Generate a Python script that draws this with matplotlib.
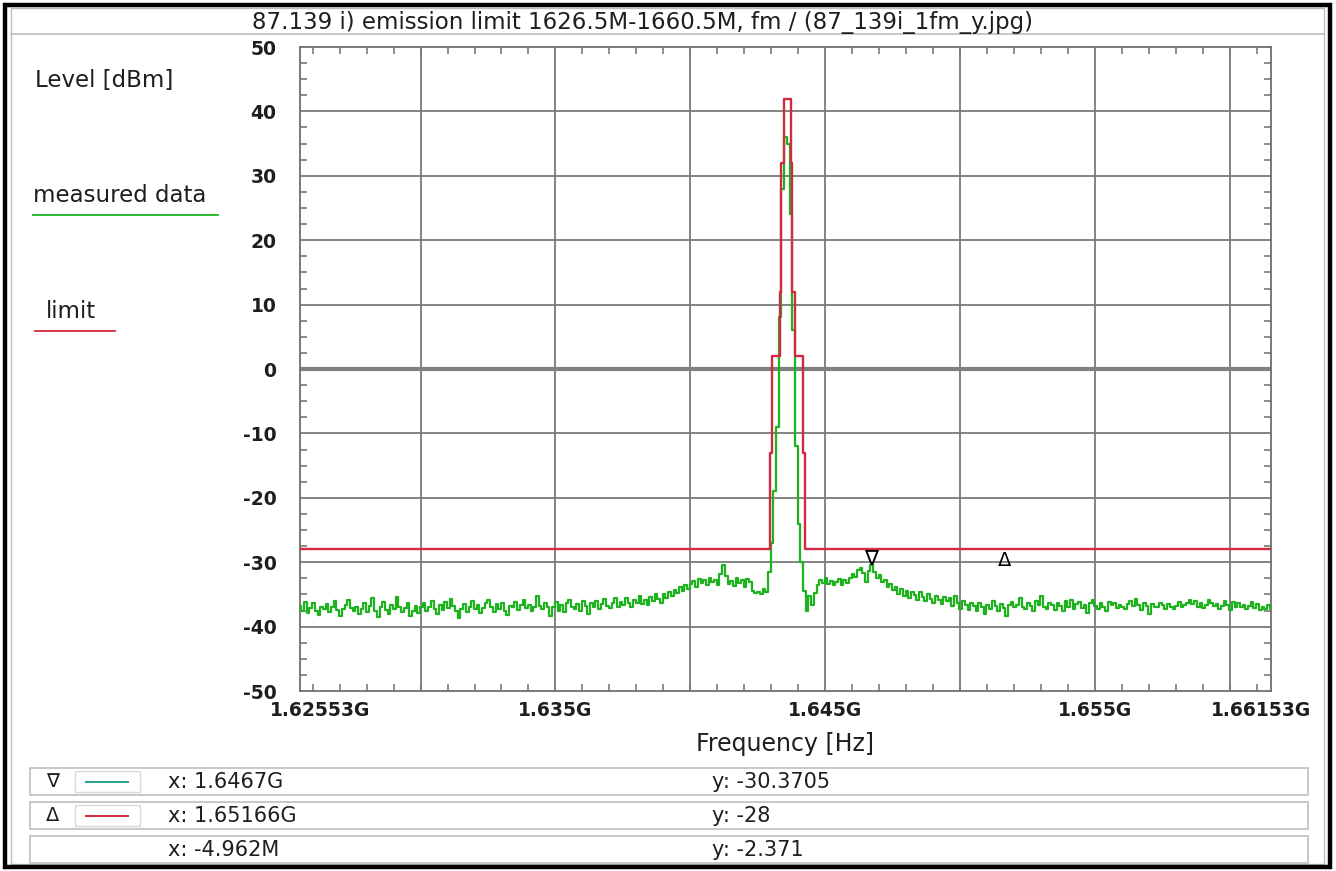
import numpy as np
import matplotlib
matplotlib.use("Agg")
import matplotlib.pyplot as plt
from matplotlib.patches import Rectangle
from matplotlib.lines import Line2D
from matplotlib.ticker import MultipleLocator
import matplotlib.transforms as mtransforms

W, H = 1336, 871
plt.rcParams['font.family'] = ['DejaVu Sans']

# ---------------- data ----------------
title = "87.139 i) emission limit 1626.5M-1660.5M, fm / (87_139i_1fm_y.jpg)"
y_label = "Level [dBm]"
x_label = "Frequency [Hz]"
series_names = ["measured data", "limit"]

f_start_mhz = 1625.53
f_stop_mhz = 1661.53

measured_dbm = [
    -36.8, -37.5, -36.2, -37.9, -37.1, -36.4, -37.6, -38.2, -36.9, -37.3,
    -36.5, -37.8, -37.0, -36.1, -37.4, -38.4, -37.2, -36.7, -35.8, -37.1,
    -37.6, -36.9, -38.0, -37.3, -36.3, -37.7, -36.8, -35.6, -37.5, -38.5,
    -37.0, -36.2, -37.4, -38.1, -36.6, -37.2, -35.4, -36.9, -37.8, -37.1,
    -36.4, -38.3, -37.5, -36.8, -37.9, -37.0, -36.3, -37.6, -36.9, -36.1,
    -37.3, -38.0, -36.7, -37.4, -36.2, -37.1, -35.7, -36.8, -37.5, -38.6,
    -37.2, -36.5, -37.7, -36.9, -36.0, -37.3, -36.6, -37.9, -37.1, -36.4,
    -35.9, -37.0, -37.8, -36.5, -37.2, -36.3, -37.5, -38.2, -36.8, -37.0,
    -36.2, -37.4, -36.7, -35.8, -37.1, -36.6, -37.6, -36.9, -35.2, -36.8,
    -37.3, -36.4, -37.0, -38.3, -36.9, -36.2, -37.5, -36.6, -37.8, -36.4,
    -35.8, -36.9, -37.3, -36.5, -37.6, -36.1, -36.8, -38.0, -36.4, -36.9,
    -36.0, -37.2, -36.5, -35.7, -36.8, -37.1, -36.3, -35.5, -36.9, -36.2,
    -36.7, -35.6, -36.4, -37.0, -35.9, -36.3, -35.2, -36.5, -35.8, -36.6,
    -35.4, -36.1, -35.0, -35.7, -36.4, -34.9, -35.6, -34.6, -35.3, -34.3,
    -34.8, -33.9, -34.5, -33.6, -34.2, -33.4, -32.9, -33.8, -32.6, -33.3,
    -32.8, -33.6, -32.4, -33.1, -32.7, -33.5, -31.8, -30.4, -32.2, -33.4,
    -32.9, -33.7, -32.5, -33.2, -32.8, -33.9, -32.6, -33.1, -34.4, -34.8,
    -34.6, -34.9, -34.2, -34.7, -31.5, -27.0, -19.0, -9.0, 8.0, 28.0,
    36.0, 35.0, 24.0, 6.0, -12.0, -24.0, -30.0, -34.5, -37.6, -35.2,
    -36.6, -34.8, -33.6, -32.7, -33.2, -32.5, -33.4, -32.9, -33.6, -33.0,
    -32.6, -33.5, -32.8, -33.3, -32.4, -31.8, -32.3, -31.2, -30.9, -31.6,
    -33.0, -31.4, -30.37, -31.5, -32.4, -32.0, -33.1, -32.8, -33.9, -33.4,
    -34.3, -33.8, -34.9, -34.2, -35.3, -34.5, -35.6, -34.7, -35.1, -35.8,
    -34.6, -35.4, -36.0, -35.0, -35.7, -36.3, -35.2, -35.9, -36.5, -35.4,
    -36.1, -35.6, -36.8, -35.3, -36.4, -37.2, -36.0, -36.7, -37.4, -36.3,
    -36.8, -37.5, -36.4, -36.9, -38.0, -36.6, -37.2, -36.1, -36.8, -37.6,
    -36.5, -37.1, -38.4, -36.7, -36.2, -37.0, -36.6, -35.5, -36.9, -37.3,
    -36.4, -36.8, -37.5, -36.0, -36.6, -35.3, -36.9, -37.2, -36.4, -36.7,
    -37.4, -36.3, -36.8, -37.6, -36.1, -36.9, -35.8, -37.3, -36.5, -36.2,
    -37.1, -36.6, -37.9, -36.4, -35.9, -36.8, -37.2, -36.3, -36.9, -37.5,
    -36.2, -36.7, -36.4, -37.1, -36.6, -36.9, -37.3, -36.5, -36.1, -36.8,
    -35.7, -36.6, -37.4, -36.3, -36.8, -38.1, -36.5, -36.9, -37.0, -36.4,
    -36.7, -37.2, -36.5, -36.9, -37.3, -36.8, -36.2, -37.0, -36.6, -36.3,
    -35.8, -36.5, -36.1, -36.9, -36.4, -37.1, -36.6, -35.9, -36.3, -36.8,
    -36.5, -37.2, -36.8, -36.1, -36.6, -37.4, -36.2, -36.9, -36.4, -37.0,
    -36.6, -37.3, -36.8, -36.2, -37.1, -36.5, -37.4, -36.9, -37.2, -36.7, -37.3,
]

limit_edges_mhz = [1625.53, 1642.97, 1643.04, 1643.32, 1643.38, 1643.47,
                   1643.72, 1643.78, 1643.90, 1644.19, 1644.25, 1661.53]
limit_dbm = [-28, -13, 2, 12, 32, 42, 32, 12, 2, -13, -28, -28]

x_ticks_mhz = [1625.53, 1635, 1645, 1655, 1661.53]
x_tick_labels = ["1.62553G", "1.635G", "1.645G", "1.655G", "1.66153G"]
x_grid_mhz = [1630, 1635, 1640, 1645, 1650, 1655, 1660]
y_ticks = [50, 40, 30, 20, 10, 0, -10, -20, -30, -40, -50]
y_grid = [40, 30, 20, 10, -10, -20, -30, -40]

marker1_mhz, marker1_dbm = 1646.7, -30.3705
marker2_mhz, marker2_dbm = 1651.66, -28
table_rows = [
    ("\u2207", "x: 1.6467G", "y: -30.3705"),
    ("\u0394", "x: 1.65166G", "y: -28"),
    ("", "x: -4.962M", "y: -2.371"),
]

GREEN = '#1fb21f'
RED = '#d22a3e'
GRID = '#7a7a7a'
TEAL = '#2aa08a'
TXT = '#1e1e1e'


def fx(x):
    return x / W


def fy(y):
    return 1 - y / H


fig = plt.figure(figsize=(W / 100, H / 100), dpi=100)
fig.patch.set_facecolor('white')

# frame / title bar
fig.add_artist(Rectangle((fx(11), fy(864)), fx(1313), 856 / H, transform=fig.transFigure,
                         fill=False, ec='#bdbdbd', lw=1.0))
fig.add_artist(Line2D([fx(11), fx(1324)], [fy(34), fy(34)], transform=fig.transFigure,
                      color='#bdbdbd', lw=1.2))
fig.add_artist(Rectangle((fx(5), fy(867)), fx(1325), 862 / H, transform=fig.transFigure,
                         fill=False, ec='black', lw=3.2))
fig.text(fx(642), fy(22), title, ha='center', va='center', fontsize=16.5, color=TXT)

# axes
ax = fig.add_axes([fx(300), fy(691), 971 / W, 644 / H])
ax.set_xlim(f_start_mhz, f_stop_mhz)
ax.set_ylim(-50, 50)

ax.vlines(x_grid_mhz, -50, 50, color=GRID, lw=1.3, zorder=1)
ax.hlines(y_grid, f_start_mhz, f_stop_mhz, color=GRID, lw=1.3, zorder=1)
ax.axhline(0, color='#808080', lw=3.0, zorder=1)

freq = np.linspace(f_start_mhz, f_stop_mhz, len(measured_dbm))
ax.plot(freq, measured_dbm, drawstyle='steps-mid', color=GREEN, lw=1.6, zorder=3)
ax.plot(limit_edges_mhz, limit_dbm, drawstyle='steps-post', color=RED, lw=1.7, zorder=4)

# markers
ax.text(marker1_mhz, marker1_dbm, "\u2207", ha='center', va='baseline', fontsize=15,
        color='black', zorder=5)
ax.text(marker2_mhz, marker2_dbm - 0.2, "\u0394", ha='center', va='top', fontsize=14,
        color='black', zorder=5)

# ticks
ax.set_xticks(x_ticks_mhz)
ax.set_xticklabels(x_tick_labels, fontweight='bold', fontsize=13.5, color=TXT)
ax.set_yticks(y_ticks)
ax.set_yticklabels([str(v) for v in y_ticks], fontweight='bold', fontsize=13.5, color=TXT)
ax.tick_params(axis='x', which='major', length=0, pad=7)
ax.tick_params(axis='y', which='major', length=0, pad=17)
ax.xaxis.set_minor_locator(MultipleLocator(1))
ax.yaxis.set_minor_locator(MultipleLocator(2.5))
ax.tick_params(which='minor', direction='in', length=5, width=1.2, color=GRID,
               top=True, bottom=True, left=True, right=True)
for sp in ax.spines.values():
    sp.set_color('#6e6e6e')
    sp.set_linewidth(1.3)

lbls = ax.get_xticklabels()
lbls[0].set_transform(lbls[0].get_transform() +
                      mtransforms.ScaledTranslation(0.20, 0, fig.dpi_scale_trans))
lbls[-1].set_transform(lbls[-1].get_transform() +
                       mtransforms.ScaledTranslation(-0.10, 0, fig.dpi_scale_trans))

fig.text(fx(785), fy(744), x_label, ha='center', va='center', fontsize=17, color=TXT)

# left legend
fig.text(fx(35), fy(81), y_label, ha='left', va='center', fontsize=16.5, color=TXT)
fig.text(fx(33), fy(195), series_names[0], ha='left', va='center', fontsize=16.5, color=TXT)
fig.add_artist(Line2D([fx(33), fx(218)], [fy(215), fy(215)], transform=fig.transFigure,
                      color=GREEN, lw=1.3))
fig.text(fx(46), fy(311), series_names[1], ha='left', va='center', fontsize=16.5, color=TXT)
fig.add_artist(Line2D([fx(35), fx(115)], [fy(331), fy(331)], transform=fig.transFigure,
                      color=RED, lw=1.3))

# marker table
row_tops = [768, 802, 836]
row_h = 27
sample_colors = [TEAL, RED, None]
for (sym, xs, ys), top, col in zip(table_rows, row_tops, sample_colors):
    fig.add_artist(Rectangle((fx(30), fy(top + row_h)), fx(1278), row_h / H,
                             transform=fig.transFigure, fill=False, ec='#c4c4c4', lw=1.3))
    cy = top + row_h / 2
    if sym:
        fig.text(fx(53), fy(cy), sym, ha='center', va='center', fontsize=14, color=TXT)
    if col:
        fig.add_artist(Rectangle((fx(75), fy(top + row_h - 3)), fx(65), (row_h - 6) / H,
                                 transform=fig.transFigure, fill=False, ec='#d8d8d8', lw=1.0))
        fig.add_artist(Line2D([fx(86), fx(128)], [fy(cy), fy(cy)], transform=fig.transFigure,
                              color=col, lw=1.4))
    fig.text(fx(168), fy(cy), xs, ha='left', va='center', fontsize=15, color=TXT)
    fig.text(fx(712), fy(cy), ys, ha='left', va='center', fontsize=15, color=TXT)

fig.savefig('out.png', dpi=100, facecolor='white')
